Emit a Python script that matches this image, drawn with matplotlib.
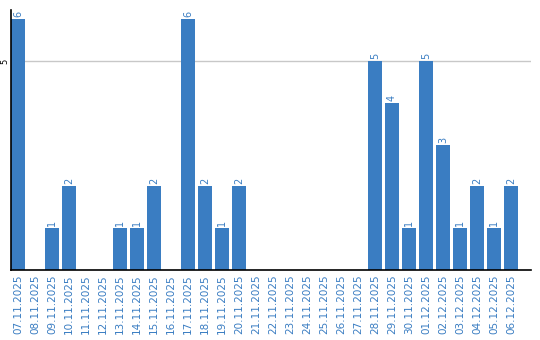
import matplotlib
matplotlib.use("Agg")
import matplotlib.pyplot as plt

dates = ["07.11.2025", "08.11.2025", "09.11.2025", "10.11.2025", "11.11.2025",
         "12.11.2025", "13.11.2025", "14.11.2025", "15.11.2025", "16.11.2025",
         "17.11.2025", "18.11.2025", "19.11.2025", "20.11.2025", "21.11.2025",
         "22.11.2025", "23.11.2025", "24.11.2025", "25.11.2025", "26.11.2025",
         "27.11.2025", "28.11.2025", "29.11.2025", "30.11.2025", "01.12.2025",
         "02.12.2025", "03.12.2025", "04.12.2025", "05.12.2025", "06.12.2025"]
counts = [6, 0, 1, 2, 0, 0, 1, 1, 2, 0,
          6, 2, 1, 2, 0, 0, 0, 0, 0, 0,
          0, 5, 4, 1, 5, 3, 1, 2, 1, 2]

BLUE = "#3a7dc2"

fig = plt.figure(figsize=(5.4, 3.4), dpi=100)
ax = fig.add_axes([11 / 540, 70 / 340, 520 / 540, 260 / 340])

x = list(range(len(dates)))
ax.bar(x, counts, width=0.82, color=BLUE, zorder=2)
for xi, v in zip(x, counts):
    if v > 0:
        ax.text(xi, v + 0.05, str(v), rotation=90, ha="center", va="bottom",
                color=BLUE, fontsize=7)

ax.set_xlim(-0.41, 30.18)
ax.set_ylim(0, 6.22)
ax.set_yticks([5])
ax.set_yticklabels(["5"], rotation=90, va="center", ha="right", fontsize=6)
ax.yaxis.grid(True, color="#c8c8c8", lw=1, zorder=0)
ax.set_xticks(x)
ax.set_xticklabels(dates, rotation=90, color=BLUE, fontsize=7.5)
ax.tick_params(axis="x", length=0, pad=3)
ax.tick_params(axis="y", length=0, pad=1)

for s in ["top", "right"]:
    ax.spines[s].set_visible(False)
ax.spines["left"].set_color("black")
ax.spines["bottom"].set_color("black")
ax.spines["left"].set_linewidth(1.2)
ax.spines["bottom"].set_linewidth(1.2)

fig.savefig("out.png", dpi=100)
